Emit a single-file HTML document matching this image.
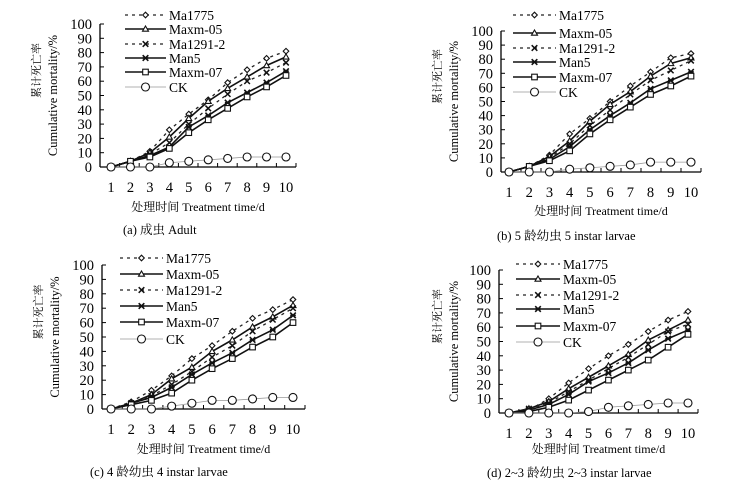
<!DOCTYPE html>
<html><head><meta charset="utf-8"><style>
body{margin:0;background:#fff}
svg{display:block;font-family:"Liberation Serif","Noto Serif CJK SC",serif}
</style></head><body>
<svg id="c" width="756" height="492" viewBox="0 0 756 492"></svg>
<script>
const days=[1,2,3,4,5,6,7,8,9,10];
const yTicks=[0,10,20,30,40,50,60,70,80,90,100];
const seriesNames=["Ma1775","Maxm-05","Ma1291-2","Man5","Maxm-07","CK"];
const adultMa1775=[0,4,11,26,37,47,59,68,76,81];
const adultMaxm05=[0,4,10,21,34,46,55,63,71,77];
const adultMa1291=[0,4,9,17,30,41,51,60,66,73];
const adultMan5=[0,4,8,14,28,36,45,52,59,67];
const adultMaxm07=[0,4,7,13,24,33,41,49,56,64];
const adultCK=[0,0,0,3,4,5,6,7,7,7];
const l5Ma1775=[0,4,12,27,38,50,61,71,81,84];
const l5Maxm05=[0,4,11,22,36,48,57,68,77,81];
const l5Ma1291=[0,4,10,20,33,44,55,65,72,79];
const l5Man5=[0,4,9,18,30,40,49,59,65,71];
const l5Maxm07=[0,4,8,15,27,37,46,55,61,68];
const l5CK=[0,0,0,2,3,4,5,7,7,7];
const l4Ma1775=[0,5,13,23,35,44,54,63,69,76];
const l4Maxm05=[0,4,10,21,29,40,48,57,64,72];
const l4Ma1291=[0,4,9,17,26,36,44,54,62,70];
const l4Man5=[0,4,8,15,24,32,39,48,55,65];
const l4Maxm07=[0,3,6,11,20,28,35,43,50,60];
const l4CK=[0,0,0,2,4,6,6,7,8,8];
const l23Ma1775=[0,2,10,21,31,40,48,57,65,71];
const l23Maxm05=[0,3,8,17,25,33,41,51,58,65];
const l23Ma1291=[0,3,7,15,23,31,39,48,57,62];
const l23Man5=[0,2,6,13,22,28,35,44,52,58];
const l23Maxm07=[0,1,4,9,16,23,30,37,46,55];
const l23CK=[0,0,0,0,1,4,5,6,7,7];

const svg=document.getElementById('c');
const NS='http://www.w3.org/2000/svg';
function mk(tag,at,parent){const e=document.createElementNS(NS,tag);for(const k in at)e.setAttribute(k,at[k]);(parent||svg).appendChild(e);return e;}
function txt(s,at,parent){const e=mk('text',at,parent);e.textContent=s;return e;}

const styles=[
 {dash:"3,4",m:"diamond",w:1.3,c:"#222"},
 {dash:"",m:"tri",w:1.6,c:"#111"},
 {dash:"3,4",m:"x",w:1.3,c:"#222"},
 {dash:"",m:"star",w:1.6,c:"#111"},
 {dash:"",m:"square",w:1.6,c:"#111"},
 {dash:"",m:"circle",w:0.8,c:"#999"}
];
function marker(g,type,x,y){
 let e;
 if(type==="diamond"){e=mk('path',{d:`M${x} ${y-2.8}L${x+2.8} ${y}L${x} ${y+2.8}L${x-2.8} ${y}Z`,fill:"#fff",stroke:"#111","stroke-width":1.1},g);}
 else if(type==="tri"){e=mk('path',{d:`M${x} ${y-3}L${x+3} ${y+2.2}L${x-3} ${y+2.2}Z`,fill:"#fff",stroke:"#111","stroke-width":1.1},g);}
 else if(type==="x"){e=mk('path',{d:`M${x-2.8} ${y-2.8}L${x+2.8} ${y+2.8}M${x+2.8} ${y-2.8}L${x-2.8} ${y+2.8}`,stroke:"#111","stroke-width":1.5},g);}
 else if(type==="star"){e=mk('path',{d:`M${x-2.8} ${y-2.8}L${x+2.8} ${y+2.8}M${x+2.8} ${y-2.8}L${x-2.8} ${y+2.8}M${x-2.8} ${y}L${x+2.8} ${y}`,stroke:"#111","stroke-width":1.6},g);}
 else if(type==="square"){e=mk('rect',{x:x-2.8,y:y-2.8,width:5.6,height:5.6,fill:"#fff",stroke:"#111","stroke-width":1.1},g);}
 else {e=mk('circle',{cx:x,cy:y,r:4,fill:"#fff",stroke:"#111","stroke-width":1.1},g);}
 return e;
}

const panels=[
 {id:"adult",ax:100,y0:167,y100:24,x1:111,x10:286,xend:296,tickY:192,titleY:211,capY:234,cap:"(a) 成虫 Adult",capX:123,
  legY:[15,29,44,58,72,87],lx1:125,lx2:166,ytx:40,data:[adultMa1775,adultMaxm05,adultMa1291,adultMan5,adultMaxm07,adultCK]},
 {id:"instar5",ax:501,y0:172,y100:31,x1:509,x10:691,xend:701,tickY:197,titleY:215,capY:240,cap:"(b) 5 龄幼虫 5 instar larvae",capX:497,
  legY:[15,33,48,62,77,92],lx1:513,lx2:556,ytx:441,data:[l5Ma1775,l5Maxm05,l5Ma1291,l5Man5,l5Maxm07,l5CK]},
 {id:"instar4",ax:102,y0:409,y100:265,x1:111,x10:293,xend:305,tickY:434,titleY:453,capY:476,cap:"(c) 4 龄幼虫 4 instar larvae",capX:90,
  legY:[258,274,290,306,322,339],lx1:120,lx2:163,ytx:42,data:[l4Ma1775,l4Maxm05,l4Ma1291,l4Man5,l4Maxm07,l4CK]},
 {id:"instar2-3",ax:499,y0:413,y100:270,x1:509,x10:688,xend:698,tickY:438,titleY:453,capY:477,cap:"(d) 2~3 龄幼虫 2~3 instar larvae",capX:487,
  legY:[264,279,295,309,326,342],lx1:516,lx2:560,ytx:441,data:[l23Ma1775,l23Maxm05,l23Ma1291,l23Man5,l23Maxm07,l23CK]}
];

panels.forEach(p=>{
 const g=mk('g',{});
 
 
 const xs=d=>p.x1+(d-1)*(p.x10-p.x1)/9;
 const ys=v=>p.y0-v*(p.y0-p.y100)/100;
 const ya=mk('line',{x1:p.ax,y1:p.y100,x2:p.ax,y2:p.y0,stroke:"#000","stroke-width":1.3},g);
 
 const xa=mk('line',{x1:p.ax,y1:p.y0,x2:p.xend,y2:p.y0,stroke:"#000","stroke-width":1.3},g);
 
 yTicks.forEach(t=>{
  mk('line',{x1:p.ax,y1:ys(t),x2:p.ax+4,y2:ys(t),stroke:"#000","stroke-width":1},g);
  const l=txt(String(t),{x:p.ax-8,y:ys(t)+5,"text-anchor":"end","font-size":14.5},g);
  
 });
 for(let i=0;i<=10;i++){const x=p.ax+(i)*(p.xend-p.ax)/10;mk('line',{x1:x,y1:p.y0,x2:x,y2:p.y0-4,stroke:"#000","stroke-width":1},g);}
 days.forEach(d=>{
  const l=txt(String(d),{x:xs(d),y:p.tickY,"text-anchor":"middle","font-size":14.5},g);
  
 });
 const xt=txt("处理时间 Treatment time/d",{x:(p.ax+p.xend)/2,y:p.titleY,"text-anchor":"middle","font-size":12},g);
 
 const cy=(p.y0+p.y100)/2;
 const yt1=txt("累计死亡率",{x:0,y:0,"text-anchor":"middle","font-size":11,transform:`translate(${p.ytx},${cy-25}) rotate(-90)`},g);
 
 const yt2=txt("Cumulative mortality/%",{x:0,y:0,"text-anchor":"middle","font-size":12.5,transform:`translate(${p.ytx+17},${cy}) rotate(-90)`},g);
 
 const cap=txt(p.cap,{x:p.capX,y:p.capY,"font-size":12.5},g);
 
 p.data.forEach((arr,si)=>{
  const s=styles[si];
  const sg=mk('g',{},g);
  
  
  const pts=arr.map((v,i)=>xs(days[i])+','+ys(v)).join(' ');
  const pl=mk('polyline',{points:pts,fill:"none",stroke:s.c,"stroke-width":s.w,"stroke-dasharray":s.dash},sg);
  
  arr.forEach((v,i)=>{const m=marker(sg,s.m,xs(days[i]),ys(v));
   });
  const lg=mk('g',{},g);
  
  
  const ly=p.legY[si];
  mk('line',{x1:p.lx1,y1:ly,x2:p.lx2,y2:ly,stroke:s.c,"stroke-width":s.w,"stroke-dasharray":s.dash},lg);
  marker(lg,s.m,(p.lx1+p.lx2)/2,ly);
  txt(seriesNames[si],{x:p.lx2+3,y:ly+5,"font-size":13.5},lg);
 });
});
</script>
</body></html>
